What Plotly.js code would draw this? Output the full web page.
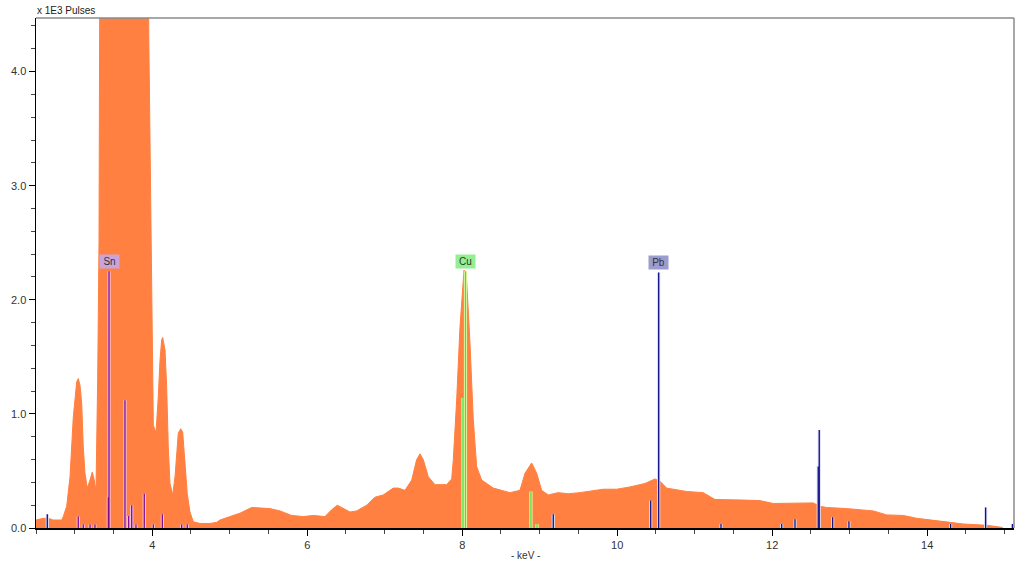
<!DOCTYPE html>
<html>
<head>
<meta charset="utf-8">
<script src="https://cdn.plot.ly/plotly-3.0.1.min.js"></script>
<style>html,body{margin:0;padding:0;background:#fff;}#chart{width:1024px;height:562px;}</style>
</head>
<body>
<div id="chart"></div>
<script>
// Spectrum (keV, x1E3 pulses)
const energyKeV = [2.500,2.594,2.681,2.719,2.832,2.852,2.896,2.939,2.981,3.025,3.046,3.068,3.090,3.110,3.132,3.162,3.197,3.226,3.252,3.274,3.296,3.313,3.326,
  3.949,3.955,3.971,3.990,4.001,4.014,4.035,4.048,4.078,4.100,4.122,4.135,4.165,4.186,4.207,4.229,4.264,4.294,4.336,4.367,4.393,4.423,4.452,4.487,4.530,
  4.616,4.745,4.832,4.874,5.003,5.132,5.283,5.519,5.648,5.799,5.949,6.078,6.229,6.315,6.388,6.465,6.552,6.638,6.767,6.874,6.981,7.110,7.175,7.261,7.348,
  7.412,7.455,7.497,7.562,7.648,7.799,7.864,7.885,7.928,7.971,8.023,8.057,8.100,8.143,8.186,8.251,8.401,8.616,8.745,8.810,8.896,8.961,9.025,9.110,9.239,
  9.368,9.519,9.606,9.820,9.993,10.165,10.358,10.487,10.552,10.638,10.723,10.896,11.110,11.261,11.626,11.842,12.013,12.358,12.529,12.616,12.702,12.960,
  13.090,13.303,13.477,13.691,13.864,14.078,14.294,14.465,14.767,14.961,14.978];
const pulses = [0.07,0.085,0.08,0.07,0.07,0.10,0.19,0.45,0.97,1.28,1.31,1.25,1.09,0.71,0.48,0.35,0.42,0.49,0.42,0.32,1.32,2.5,5.5,
  5.5,4.34,3.48,2.08,1.44,0.90,0.86,0.83,1.15,1.47,1.65,1.67,1.56,1.24,0.71,0.39,0.29,0.45,0.83,0.87,0.84,0.60,0.30,0.14,0.055,
  0.04,0.04,0.05,0.07,0.10,0.13,0.18,0.17,0.15,0.11,0.10,0.11,0.10,0.16,0.20,0.17,0.14,0.15,0.20,0.27,0.29,0.35,0.35,0.33,0.42,
  0.60,0.65,0.60,0.45,0.38,0.38,0.43,0.60,1.12,1.76,2.26,2.17,1.62,0.95,0.54,0.42,0.35,0.31,0.33,0.48,0.57,0.48,0.33,0.29,0.31,
  0.30,0.31,0.32,0.34,0.34,0.36,0.39,0.43,0.41,0.35,0.34,0.32,0.31,0.25,0.245,0.24,0.215,0.215,0.22,0.19,0.18,0.17,
  0.16,0.15,0.115,0.11,0.085,0.07,0.05,0.035,0.024,0.006,0];

// Element marker lines
const snLineE = [3.045,3.110,3.197,3.261,3.433,3.442,3.648,3.696,3.735,3.790,3.897,4.014,4.130,4.380,4.452];
const snLineH = [0.10,0.03,0.03,0.03,0.27,2.25,1.12,0.105,0.20,0.03,0.30,0.03,0.12,0.03,0.03];
const cuLineE = [8.010,8.042,8.887,8.965];
const cuLineH = [1.14,2.25,0.32,0.035];
const pbLineE = [2.646,9.175,10.432,10.535,11.339,12.122,12.294,12.594,12.607,12.780,12.990,14.302,14.754,15.100];
const pbLineH = [0.12,0.12,0.24,2.24,0.035,0.035,0.076,0.54,0.86,0.094,0.06,0.035,0.18,0.035];

const elementNames = ['Sn','Cu','Pb'];
const labelEnergy = [3.442,8.042,10.535];
const labelHeight = [2.25,2.25,2.24];

const xTicks = [4,6,8,10,12,14];

function segs(E,H){const x=[],y=[];for(let i=0;i<E.length;i++){x.push(E[i],E[i],null);y.push(0,H[i],null);}return {x,y};}

const traces = [{
  x: energyKeV, y: pulses, type:'scatter', mode:'lines', fill:'tozeroy',
  fillcolor:'#ff8040', line:{color:'#ff8040', width:1}, hoverinfo:'skip'
}];
const styles = [
  {E:snLineE,H:snLineH,halo:'#f3c6e6',core:'#800a8c'},
  {E:cuLineE,H:cuLineH,halo:'#eef5a8',core:'#44e044'},
  {E:pbLineE,H:pbLineH,halo:'#dcdcf2',core:'#12128a'}
];
styles.forEach(s=>{
  const g=segs(s.E,s.H);
  traces.push({x:g.x,y:g.y,type:'scatter',mode:'lines',line:{color:s.halo,width:3.2},hoverinfo:'skip',connectgaps:false});
  traces.push({x:g.x,y:g.y,type:'scatter',mode:'lines',line:{color:s.core,width:1.3},hoverinfo:'skip',connectgaps:false});
});

const labelBg = ['#c9a3da','#92f092','#9c9cd0'];
const annotations = elementNames.map((n,i)=>({
  x: labelEnergy[i], y: labelHeight[i], xref:'x', yref:'y', text:n, showarrow:false,
  xanchor:'center', yanchor:'bottom', yshift:2, bgcolor:labelBg[i], borderpad:1, width:17, height:11,
  font:{family:'Liberation Sans, Arial, sans-serif', size:10, color:'#333'}
}));
annotations.push({x:0, y:1, xref:'paper', yref:'paper', xanchor:'left', yanchor:'bottom', yshift:0, xshift:-1,
  text:'x 1E3 Pulses', showarrow:false, font:{family:'Liberation Sans, Arial, sans-serif', size:10, color:'#222'}});
annotations.push({x:0.5, y:0, xref:'paper', yref:'paper', xanchor:'center', yanchor:'top', yshift:-20,
  text:'- keV -', showarrow:false, font:{family:'Liberation Sans, Arial, sans-serif', size:10, color:'#333'}});

const layout = {
  width:1024, height:562,
  margin:{l:36, r:10, t:18, b:34},
  paper_bgcolor:'#fff', plot_bgcolor:'#fff',
  showlegend:false,
  font:{family:'Liberation Sans, Arial, sans-serif', size:11, color:'#333'},
  xaxis:{range:[2.5,15.12], tickmode:'array', tickvals:xTicks, ticktext:xTicks.map(String),
    ticks:'outside', ticklen:6, tickcolor:'#000', tickwidth:1,
    showline:true, linecolor:'#000', linewidth:1.5, showgrid:false, zeroline:false,
    minor:{tickmode:'linear', tick0:0, dtick:0.5, ticks:'outside', ticklen:4, tickcolor:'#444'},
    tickfont:{size:11, color:'#333'}},
  yaxis:{range:[0,4.47], tickmode:'linear', tick0:0, dtick:1, tickformat:'.1f',
    ticks:'outside', ticklen:6, tickcolor:'#000', tickwidth:1,
    showline:true, linecolor:'#000', linewidth:1.5, showgrid:false, zeroline:false,
    minor:{tickmode:'linear', tick0:0, dtick:0.2, ticks:'outside', ticklen:4, tickcolor:'#444'},
    tickfont:{size:11, color:'#333'}},
  shapes:[
    {type:'line', xref:'paper', yref:'paper', x0:0, x1:1, y0:1, y1:1, line:{color:'#8a8a8a', width:1.5}},
    {type:'line', xref:'paper', yref:'paper', x0:1, x1:1, y0:0, y1:1, line:{color:'#8a8a8a', width:1.5}}
  ],
  annotations: annotations
};
Plotly.newPlot('chart', traces, layout, {staticPlot:true, displayModeBar:false});
</script>
</body>
</html>
